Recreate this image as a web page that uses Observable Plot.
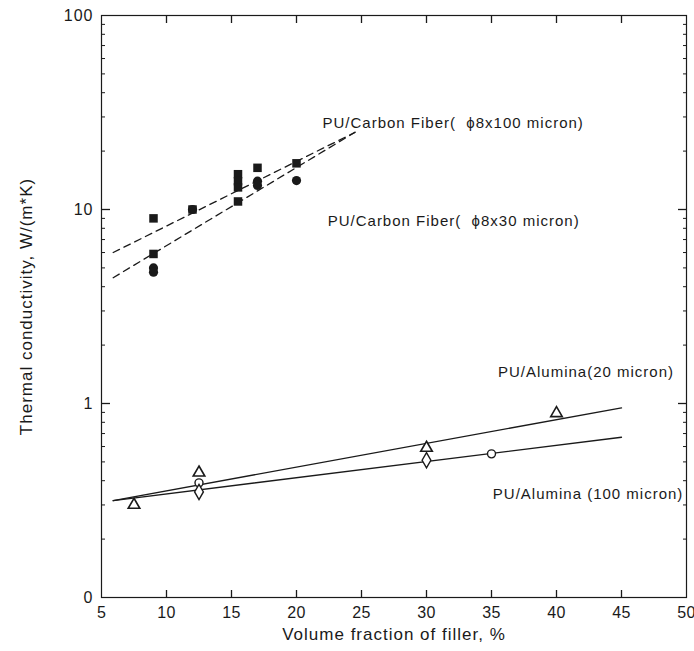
<!DOCTYPE html>
<html>
<head>
<meta charset="utf-8">
<script src="https://cdn.jsdelivr.net/npm/d3@7"></script>
<script src="https://cdn.jsdelivr.net/npm/@observablehq/plot@0.6"></script>
<style>
  html, body { margin: 0; padding: 0; background: #fff; }
  #chart svg { display: block; }
  #chart svg text { letter-spacing: 1px; }
  #chart svg g[aria-label="x-axis tick label"] text { letter-spacing: 0.3px; }
</style>
</head>
<body>
<div id="chart"></div>
<script>
// ---- data ----
const cfSquareX = [9, 9, 12, 15.5, 15.5, 15.5, 15.5, 17, 20];
const cfSquareY = [9.0, 5.9, 10.0, 15.2, 14.0, 13.0, 11.0, 16.4, 17.3];
const cfCircleX = [9, 9, 12, 17, 17, 20];
const cfCircleY = [5.0, 4.75, 10.0, 14.0, 13.3, 14.1];

const alTriX = [7.5, 12.5, 30, 40];
const alTriY = [0.30, 0.44, 0.59, 0.89];
const alCircX = [12.5, 35];
const alCircY = [0.39, 0.55];
const alDiamX = [12.5, 30];
const alDiamY = [0.35, 0.51];

// fitted trend lines (end points)
const fit100X = [5.9, 24.5], fit100Y = [6.0, 25];
const fit30X = [5.9, 24.5], fit30Y = [4.45, 25];
const al20X = [5.9, 45], al20Y = [0.316, 0.95];
const al100X = [5.9, 45], al100Y = [0.316, 0.67];

const labelText = ["PU/Carbon Fiber(  \u03D58x100 micron)", "PU/Carbon Fiber(  \u03D58x30 micron)", "PU/Alumina(20 micron)", "PU/Alumina (100 micron)"];
const labelX = [22.0, 22.4, 35.5, 35.1];
const labelY = [28.0, 8.7, 1.45, 0.34];

const xTicks = [5, 10, 15, 20, 25, 30, 35, 40, 45, 50];
const yTicks = [0.1, 1, 10, 100];
const yTickLabels = ["0", "1", "10", "100"];
const yMajor = [1, 10];
const yMinor = [0.2,0.3,0.4,0.5,0.6,0.7,0.8,0.9,2,3,4,5,6,7,8,9,20,30,40,50,60,70,80,90];

const zip = (xs, ys) => xs.map((x, i) => ({x, y: ys[i]}));
const lines = [
  {pts: zip(fit100X, fit100Y), dash: "7,5"},
  {pts: zip(fit30X, fit30Y), dash: "7,5"},
  {pts: zip(al20X, al20Y), dash: null},
  {pts: zip(al100X, al100Y), dash: null}
];
const labels = labelText.map((t, i) => ({t, x: labelX[i], y: labelY[i]}));
const ink = "#1a1a1a";
const inner = xTicks.slice(1, -1);
const blank = () => "";

const chart = Plot.plot({
  width: 694,
  height: 651,
  marginLeft: 101,
  marginRight: 8,
  marginTop: 15,
  marginBottom: 54,
  style: {fontFamily: "'Liberation Sans', Arial, sans-serif", fontSize: "16px", color: ink, background: "#fff"},
  x: {domain: [5, 50]},
  y: {type: "log", domain: [0.1, 100]},
  marks: [
    Plot.frame({stroke: ink, strokeWidth: 1.2}),
    // tick marks (drawn by the axes; flipped inward below)
    Plot.axisX({anchor: "bottom", ticks: inner, tickSize: 7, tickFormat: blank, strokeWidth: 1.3, label: null}),
    Plot.axisX({anchor: "top", ticks: inner, tickSize: 7, tickFormat: blank, strokeWidth: 1.3, label: null}),
    Plot.axisY({anchor: "left", ticks: yMajor, tickSize: 9, tickFormat: blank, strokeWidth: 1.3, label: null}),
    Plot.axisY({anchor: "left", ticks: yMinor, tickSize: 4, tickFormat: blank, strokeWidth: 1, label: null}),
    Plot.axisY({anchor: "right", ticks: yMajor, tickSize: 9, tickFormat: blank, strokeWidth: 1.3, label: null}),
    Plot.axisY({anchor: "right", ticks: yMinor, tickSize: 4, tickFormat: blank, strokeWidth: 1, label: null}),
    // x axis labels
    Plot.axisX({anchor: "bottom", ticks: xTicks, tickSize: 0, tickPadding: 9, fontSize: 16,
      label: "Volume fraction of filler, %", labelAnchor: "center", labelOffset: 42, labelArrow: "none"}),
    // y axis labels
    Plot.axisY({anchor: "left", ticks: yTicks, tickSize: 0, tickPadding: 8, fontSize: 16,
      tickFormat: (d) => yTickLabels[yTicks.indexOf(d)],
      label: "Thermal conductivity, W/(m*K)", labelAnchor: "center", labelOffset: 82, labelArrow: "none"}),
    // trend lines
    ...lines.map(l => Plot.line(l.pts, {x: "x", y: "y", stroke: ink, strokeWidth: 1.3, strokeDasharray: l.dash})),
    // carbon fiber markers
    Plot.dot(zip(cfSquareX, cfSquareY), {x: "x", y: "y", symbol: "square", r: 4.8, fill: ink, stroke: "none"}),
    Plot.dot(zip(cfCircleX, cfCircleY), {x: "x", y: "y", symbol: "circle", r: 4.6, fill: ink, stroke: "none"}),
    // alumina markers
    Plot.dot(zip(alTriX, alTriY), {x: "x", y: "y", symbol: "triangle", r: 4.3, fill: "#fff", stroke: ink, strokeWidth: 1.6}),
    Plot.dot(zip(alCircX, alCircY), {x: "x", y: "y", symbol: "circle", r: 4, fill: "#fff", stroke: ink, strokeWidth: 1.4}),
    Plot.dot(zip(alDiamX, alDiamY), {x: "x", y: "y", symbol: "diamond", r: 4.6, fill: "#fff", stroke: ink, strokeWidth: 1.4}),
    // annotations
    Plot.text(labels, {x: "x", y: "y", text: "t", textAnchor: "start", fontSize: 15, fill: ink})
  ]
});
document.getElementById("chart").appendChild(chart);
// point all axis tick marks inward (into the frame)
chart.querySelectorAll('g[aria-label$="axis tick"] path').forEach(p => {
  const d = p.getAttribute("d") || "";
  p.setAttribute("d", d.replace(/L(-?[\d.]+),(-?[\d.]+)/, (m, a, b) => `L${-a},${-b}`));
});
// axis titles a touch larger than tick labels
chart.querySelectorAll('g[aria-label$="axis label"] text').forEach(t => t.setAttribute("font-size", 17));
</script>
</body>
</html>
